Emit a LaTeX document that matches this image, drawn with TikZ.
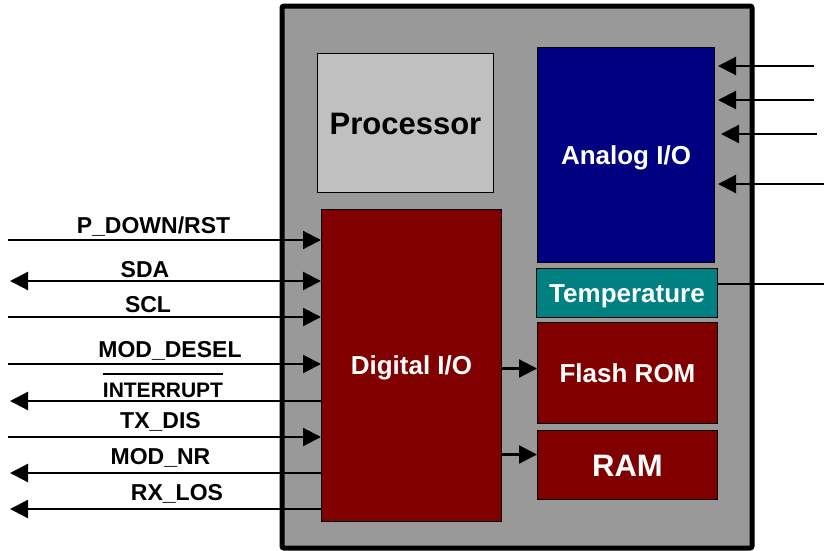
\documentclass[tikz,border=0pt]{standalone}
\usepackage{fontspec}
\setmainfont{Liberation Sans}
\usetikzlibrary{arrows.meta}
\definecolor{boxgray}{HTML}{999999}
\definecolor{procgray}{HTML}{C0C0C0}
\definecolor{navyblk}{HTML}{000080}
\definecolor{tealblk}{HTML}{008080}
\definecolor{maroonblk}{HTML}{800000}
\tikzset{
  blk/.style={draw=black, line width=1pt, anchor=north west, inner sep=0pt,
    text height=18.6pt, text depth=0pt, font=\bfseries\fontsize{26}{26}\selectfont, text=white},
  bigtxt/.style={text height=22.2pt, font=\bfseries\fontsize{31}{31}\selectfont},
  lbl/.style={anchor=base, inner sep=0pt, font=\bfseries\fontsize{23}{23}\selectfont},
  sig/.style={line width=2.2pt, -{Triangle[length=18pt,width=18pt]}},
  bisig/.style={line width=2.2pt, {Triangle[length=18pt,width=18pt]}-{Triangle[length=18pt,width=18pt]}},
  plain/.style={line width=2.2pt}
}
\begin{document}
\begin{tikzpicture}[x=1pt,y=-1pt]
\useasboundingbox (0,0) rectangle (824,550);
% outer box
\node[draw=black, fill=boxgray, line width=5pt, rounded corners=2pt, inner sep=0pt,
  minimum width=470pt, minimum height=542pt] (outer) at (517,277) {};
% blocks
\node[blk, bigtxt, fill=procgray, text=black,
  minimum width=176pt, minimum height=139pt] (proc) at (317,53) {Processor};
\node[blk, fill=navyblk, minimum width=177pt, minimum height=215pt] (analog) at (537,47) {Analog I/O};
\node[blk, fill=tealblk, minimum width=181pt, minimum height=49pt] (temp) at (536,268) {Temperature};
\node[blk, fill=maroonblk, minimum width=180pt, minimum height=312pt] (dig) at (321,209) {Digital I/O};
\node[blk, fill=maroonblk, minimum width=180pt, minimum height=101pt] (flash) at (537,322) {Flash ROM};
\node[blk, bigtxt, fill=maroonblk,
  minimum width=180pt, minimum height=69pt] (ram) at (537,430) {RAM};
% left signal end points
\coordinate (l1) at (8,240);
\coordinate (l2) at (10,281);
\coordinate (l3) at (8,317);
\coordinate (l4) at (8,364);
\coordinate (l5) at (10,401);
\coordinate (l6) at (8,437);
\coordinate (l7) at (10,473);
\coordinate (l8) at (10,509);
\draw[sig] (l1) -- (l1 -| dig.west);
\draw[bisig] (l2) -- (l2 -| dig.west);
\draw[sig] (l3) -- (l3 -| dig.west);
\draw[sig] (l4) -- (l4 -| dig.west);
\draw[sig] (l5 -| dig.west) -- (l5);
\draw[sig] (l6) -- (l6 -| dig.west);
\draw[sig] (l7 -| dig.west) -- (l7);
\draw[sig] (l8 -| dig.west) -- (l8);
% left labels
\node[lbl] (t1) at (153.5,233) {P\_DOWN/RST};
\node[lbl] (t2) at (145,277) {SDA};
\node[lbl] (t3) at (148,312) {SCL};
\node[lbl] (t4) at (170,357) {MOD\_DESEL};
\node[lbl, font=\bfseries\fontsize{21}{21}\selectfont] (t5) at (163,397.5) {INTERRUPT};
\draw[line width=2pt] ([yshift=9pt]t5.north west) -- ([yshift=9pt]t5.north east);
\node[lbl] (t6) at (160.5,428.5) {TX\_DIS};
\node[lbl] (t7) at (160.5,464.5) {MOD\_NR};
\node[lbl] (t8) at (177,500.5) {RX\_LOS};
% right signals
\coordinate (r1) at (814,66);
\coordinate (r2) at (814,100);
\coordinate (r3) at (817,134);
\coordinate (r4) at (824,184);
\coordinate (r5) at (824,284);
\draw[sig] (r1) -- ([xshift=3pt]r1 -| analog.east);
\draw[sig] (r2) -- ([xshift=3pt]r2 -| analog.east);
\draw[sig] (r3) -- ([xshift=6pt]r3 -| analog.east);
\draw[sig] (r4) -- ([xshift=3pt]r4 -| analog.east);
\draw[plain] (r5 -| temp.east) -- (r5);
% internal
\draw[sig] ([yshift=4.5pt]flash.west -| dig.east) -- ([yshift=4.5pt]flash.west);
\draw[sig] ([yshift=10.5pt]ram.west -| dig.east) -- ([yshift=10.5pt]ram.west);
\end{tikzpicture}
\end{document}
